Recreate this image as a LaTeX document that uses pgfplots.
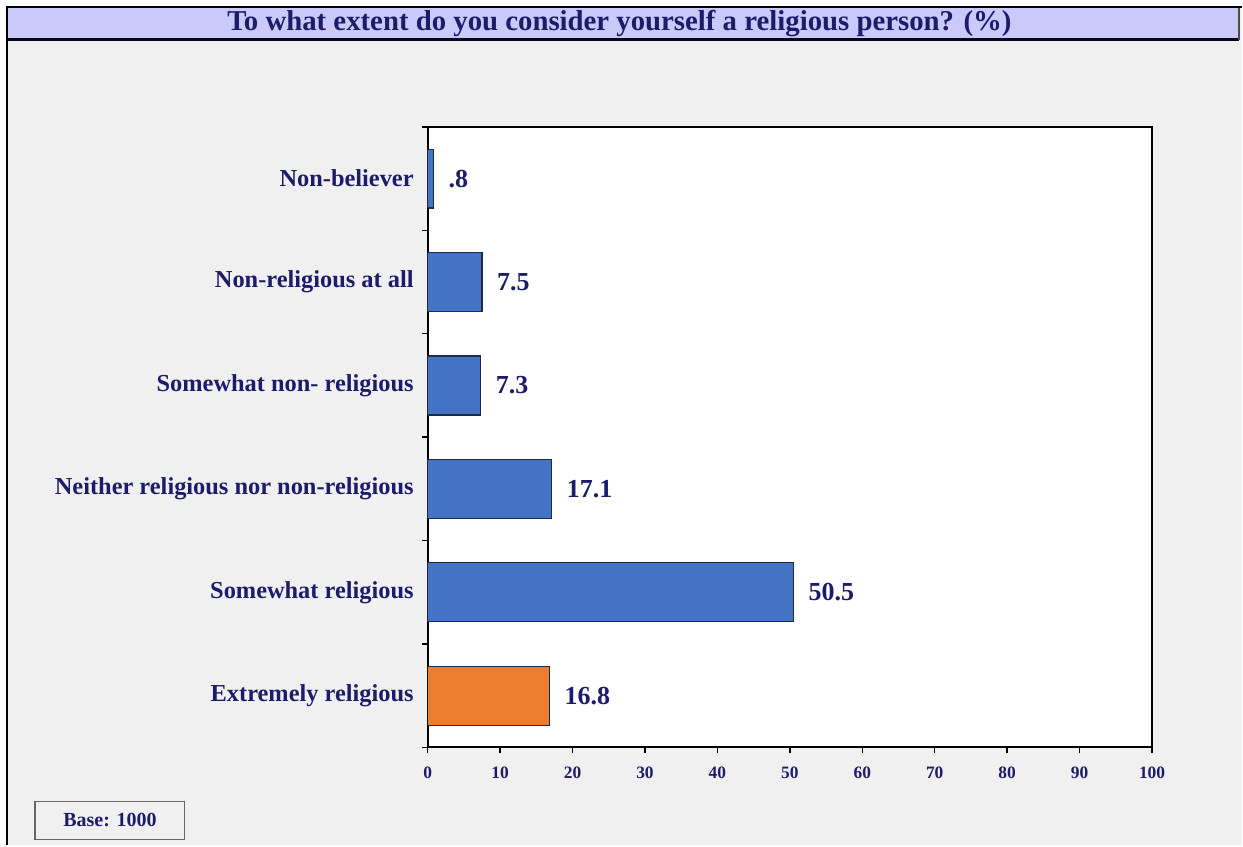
\documentclass[border=0pt]{standalone}
\usepackage{fontspec}
\setmainfont{Liberation Serif}
\usepackage{pgfplots}
\pgfplotsset{compat=1.18}

\definecolor{bgray}{HTML}{F0F0F0}
\definecolor{titlebg}{HTML}{CACAFA}
\definecolor{navy}{HTML}{1C1C6B}
\definecolor{barblue}{HTML}{4472C4}
\definecolor{barorange}{HTML}{ED7D31}
\definecolor{baredge}{HTML}{1F2A44}

\begin{document}
\begin{tikzpicture}
% frame, background and title bar
\fill[white] (0,0) rectangle (621.5pt,423pt);
\fill[bgray] (4pt,0) rectangle (621.5pt,419.5pt);
\draw[black, line width=1pt] (3.5pt,0) -- (3.5pt,419.5pt) -- (621.5pt,419.5pt);
\fill[titlebg] (4pt,403pt) rectangle (620pt,419pt);
\draw[black!80!navy, line width=1.5pt] (4pt,403pt) -- (620pt,403pt);
\draw[black!70, line width=1pt] (620pt,403pt) -- (620pt,419pt);
\node[text=navy, font=\fontsize{14.4}{17}\selectfont\bfseries] at (310pt,411pt)
  {To what extent do you consider yourself a religious person? (\%)};
\draw[fill=bgray, draw=black!60, line width=0.6pt] (17.5pt,3pt) rectangle (92.5pt,22pt);
\node[text=navy, font=\fontsize{10}{12}\selectfont\bfseries] at (55pt,12.5pt) {Base: 1000};

\begin{axis}[
  at={(214pt,49pt)}, anchor=south west,
  scale only axis, width=362.5pt, height=310.5pt,
  axis background/.style={fill=white},
  xbar, bar width=29.5pt, bar shift=0pt,
  xmin=0, xmax=100, ymin=0.5, ymax=6.5,
  xtick={0,10,...,100},
  ytick={0.5,1.5,...,6.5}, yticklabels={},
  extra y ticks={1,2,3,4,5,6},
  extra y tick labels={Extremely religious, Somewhat religious,
    Neither religious nor non-religious, Somewhat non- religious,
    Non-religious at all, Non-believer},
  extra y tick style={major tick length=0pt},
  xtick pos=bottom, ytick pos=left,
  tick align=outside, major tick length=3pt,
  axis line style={black, line width=0.9pt},
  tick style={black, line width=0.7pt},
  /pgf/number format/assume math mode=true,
  xticklabel style={font=\fontsize{8.7}{10}\selectfont\bfseries, text=navy, yshift=-3pt},
  yticklabel style={font=\fontsize{12.2}{14}\selectfont\bfseries, text=navy, xshift=-3.5pt},
  point meta=explicit symbolic,
  nodes near coords={\pgfplotspointmeta},
  every node near coord/.append style={font=\fontsize{13}{15}\selectfont\bfseries,
    text=navy, anchor=west, xshift=4pt},
]
\addplot[fill=barblue, draw=baredge, line width=0.6pt] coordinates {
  (50.5,2) [50.5]
  (17.1,3) [17.1]
  (7.3,4) [7.3]
  (7.5,5) [7.5]
  (0.8,6) [.8]
};
\addplot[fill=barorange, draw=baredge, line width=0.6pt] coordinates {
  (16.8,1) [16.8]
};
\end{axis}
\end{tikzpicture}
\end{document}
